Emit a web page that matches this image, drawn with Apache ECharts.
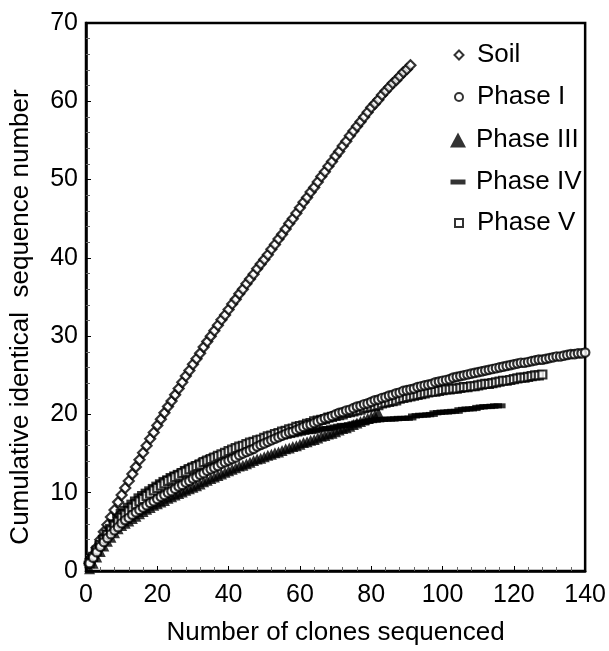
<!DOCTYPE html>
<html>
<head>
<meta charset="utf-8">
<script src="https://cdn.jsdelivr.net/npm/echarts@6/dist/echarts.min.js"></script>
<style>
html,body{margin:0;padding:0;background:#fff;}
#c{width:609px;height:651px;}
</style>
</head>
<body>
<div id="c"></div>
<script>
// Cumulative identical sequence number per clone count (clone n = index+1)
const soil = [1.0,2.0,3.0,4.0,5.0,5.9,6.9,7.8,8.8,9.7,
10.6,11.5,12.4,13.3,14.2,15.1,16.0,16.9,17.7,18.6,
19.4,20.2,21.0,21.7,22.5,23.3,24.1,24.9,25.6,26.4,
27.1,27.8,28.6,29.3,30.0,30.7,31.4,32.1,32.7,33.4,
34.1,34.7,35.4,36.0,36.7,37.3,37.9,38.6,39.2,39.8,
40.4,41.1,41.7,42.4,43.0,43.7,44.4,45.0,45.7,46.4,
47.1,47.7,48.4,49.0,49.7,50.4,51.0,51.7,52.3,53.0,
53.6,54.3,54.9,55.6,56.2,56.8,57.4,58.0,58.6,59.2,
59.7,60.2,60.8,61.3,61.8,62.3,62.7,63.2,63.7,64.1,64.6];

const phaseI = [1.0,1.7,2.4,3.1,3.7,4.2,4.7,5.2,5.6,6.1,
6.5,6.8,7.2,7.5,7.8,8.1,8.4,8.7,8.9,9.2,
9.5,9.7,10.0,10.2,10.5,10.8,11.0,11.3,11.5,11.8,
12.0,12.3,12.5,12.8,13.0,13.2,13.4,13.7,13.9,14.1,
14.3,14.5,14.8,15.0,15.2,15.4,15.6,15.9,16.1,16.3,
16.5,16.7,16.9,17.1,17.3,17.5,17.7,17.8,18.0,18.2,
18.4,18.6,18.7,18.9,19.1,19.3,19.5,19.6,19.8,20.0,
20.2,20.3,20.5,20.6,20.8,21.0,21.1,21.3,21.4,21.6,
21.8,21.9,22.1,22.2,22.4,22.5,22.7,22.8,23.0,23.1,
23.2,23.3,23.5,23.6,23.7,23.8,23.9,24.1,24.2,24.3,
24.4,24.5,24.7,24.8,24.9,25.0,25.1,25.2,25.3,25.4,
25.5,25.6,25.7,25.8,25.9,26.0,26.1,26.2,26.3,26.4,
26.5,26.6,26.6,26.7,26.8,26.9,27.0,27.0,27.1,27.2,
27.3,27.4,27.4,27.5,27.6,27.7,27.7,27.8,27.8,27.9];

const phaseIII = [0.3,1.0,1.8,2.5,3.2,3.8,4.3,4.9,5.4,5.8,
6.1,6.4,6.7,7.0,7.3,7.6,7.9,8.1,8.4,8.6,
8.8,9.0,9.3,9.5,9.7,9.9,10.1,10.3,10.5,10.7,
10.9,11.1,11.4,11.6,11.8,12.0,12.2,12.4,12.6,12.8,
13.0,13.2,13.4,13.5,13.7,13.9,14.1,14.3,14.4,14.6,
14.8,14.9,15.1,15.2,15.4,15.6,15.7,15.9,16.0,16.2,
16.4,16.5,16.7,16.8,17.0,17.2,17.3,17.5,17.6,17.8,
18.0,18.2,18.3,18.5,18.7,18.9,19.1,19.3,19.5,19.7,19.9,20.2];

const phaseIV = [1.0,1.9,2.7,3.5,4.3,5.0,5.7,6.3,7.0,7.6,
8.0,8.4,8.8,9.2,9.6,9.9,10.2,10.5,10.8,11.1,
11.4,11.7,11.9,12.2,12.4,12.6,12.8,13.1,13.3,13.5,
13.7,13.9,14.1,14.3,14.5,14.7,14.8,15.0,15.1,15.3,
15.4,15.6,15.7,15.9,16.0,16.1,16.2,16.4,16.5,16.6,
16.7,16.8,16.9,17.0,17.1,17.2,17.3,17.4,17.5,17.6,
17.7,17.8,17.8,17.9,18.0,18.1,18.2,18.2,18.3,18.4,
18.5,18.6,18.6,18.7,18.8,18.9,19.0,19.0,19.1,19.2,
19.25,19.3,19.35,19.4,19.4,19.4,19.45,19.5,19.5,19.5,
19.55,19.8,19.85,19.9,19.9,19.95,20.0,20.2,20.25,20.3,
20.3,20.35,20.4,20.4,20.6,20.65,20.7,20.7,20.75,20.9,
20.95,21.0,21.0,21.05,21.1,21.1];

const phaseV = [1.0,1.8,2.6,3.3,4.0,4.6,5.2,5.8,6.3,6.8,
7.2,7.6,8.1,8.5,8.9,9.2,9.6,9.9,10.3,10.6,
10.9,11.2,11.5,11.7,12.0,12.2,12.5,12.7,13.0,13.2,
13.4,13.6,13.9,14.1,14.3,14.5,14.7,14.9,15.1,15.3,
15.5,15.7,15.9,16.0,16.2,16.4,16.5,16.7,16.8,17.0,
17.2,17.3,17.5,17.6,17.8,17.9,18.1,18.2,18.4,18.5,
18.6,18.8,18.9,19.1,19.2,19.3,19.4,19.6,19.7,19.8,
19.9,20.0,20.2,20.3,20.4,20.5,20.6,20.8,20.9,21.0,
21.1,21.2,21.4,21.5,21.6,21.7,21.8,22.0,22.1,22.2,
22.3,22.4,22.5,22.6,22.7,22.8,22.9,22.9,23.0,23.1,
23.2,23.2,23.3,23.3,23.4,23.5,23.5,23.6,23.6,23.7,
23.8,23.9,23.9,24.0,24.1,24.2,24.3,24.3,24.4,24.5,
24.6,24.7,24.7,24.8,24.9,25.0,25.0,25.1];

const seriesNames = ['Soil','Phase I','Phase III','Phase IV','Phase V'];
const xTicks = [0,20,40,60,80,100,120,140];
const yTicks = [0,10,20,30,40,50,60,70];

const toPts = arr => arr.map((v,i)=>[i+1,v]);
const FONT = '"Liberation Sans", Arial, sans-serif';

const hollow = {color:'#fff', borderColor:'#000', borderWidth:2.2};
const hollowLeg = {color:'#fff', borderColor:'#000', borderWidth:2};
const solid = {color:'#000', borderColor:'#000', borderWidth:0};

function mkLegend(name, icon, w, h, cy, style){
  return {
    data:[{name:name, icon:icon, itemStyle:style}],
    orient:'vertical', left:453 - w/2, top:cy-15,
    itemWidth:w, itemHeight:h, selectedMode:false,
    textStyle:{fontFamily:FONT, fontSize:26, color:'#000', lineHeight:30,
      padding:[0,0,0,Math.max(0,13 - w/2)]}
  };
}

const chart = echarts.init(document.getElementById('c'), null, {renderer:'canvas'});
chart.setOption({
  animation:false,
  backgroundColor:'#fff',
  grid:{left:84, right:22, top:23, bottom:78, show:true, borderColor:'#000', borderWidth:2.5, backgroundColor:'transparent'},
  legend:[
    mkLegend('Soil','diamond',9,9,50,hollowLeg),
    mkLegend('Phase I','circle',8,8,92,hollowLeg),
    mkLegend('Phase III','triangle',16,15,135,solid),
    mkLegend('Phase IV','rect',15,5,177,solid),
    mkLegend('Phase V','rect',8,8,218,hollowLeg)
  ],
  xAxis:{
    type:'value', min:xTicks[0], max:xTicks[xTicks.length-1], interval:20,
    name:'Number of clones sequenced', nameLocation:'middle', nameGap:49,
    nameTextStyle:{fontFamily:FONT, fontSize:26, color:'#000'},
    axisLine:{show:true, onZero:false, lineStyle:{color:'#000', width:2.5}},
    axisTick:{show:true, inside:true, length:5, lineStyle:{color:'#000', width:1}},
    minorTick:{show:true, splitNumber:5, length:4, lineStyle:{color:'#666', width:1}},
    axisLabel:{fontFamily:FONT, fontSize:25, color:'#000', margin:12},
    splitLine:{show:false}
  },
  yAxis:{
    type:'value', min:yTicks[0], max:yTicks[yTicks.length-1], interval:10,
    name:'Cumulative identical  sequence number', nameLocation:'middle', nameGap:52,
    nameTextStyle:{fontFamily:FONT, fontSize:26, color:'#000', padding:[0,40,0,0]},
    axisLine:{show:true, onZero:false, lineStyle:{color:'#000', width:2.5}},
    axisTick:{show:true, inside:true, length:5, lineStyle:{color:'#000', width:1}},
    minorTick:{show:true, splitNumber:5, length:4, lineStyle:{color:'#666', width:1}},
    axisLabel:{fontFamily:FONT, fontSize:25, color:'#000', margin:8},
    splitLine:{show:false}
  },
  series:[
    {name:'Soil', type:'scatter', symbol:'diamond', symbolSize:10, data:toPts(soil), itemStyle:hollow, z:2},
    {name:'Phase III', type:'scatter', symbol:'triangle', symbolSize:11, data:toPts(phaseIII), itemStyle:solid, z:2},
    {name:'Phase IV', type:'scatter', symbol:'rect', symbolSize:[12,5], data:toPts(phaseIV), itemStyle:solid, z:2},
    {name:'Phase V', type:'scatter', symbol:'rect', symbolSize:8, data:toPts(phaseV), itemStyle:hollow, z:3},
    {name:'Phase I', type:'scatter', symbol:'circle', symbolSize:8.5, data:toPts(phaseI), itemStyle:hollow, z:4}
  ]
});
</script>
</body>
</html>
